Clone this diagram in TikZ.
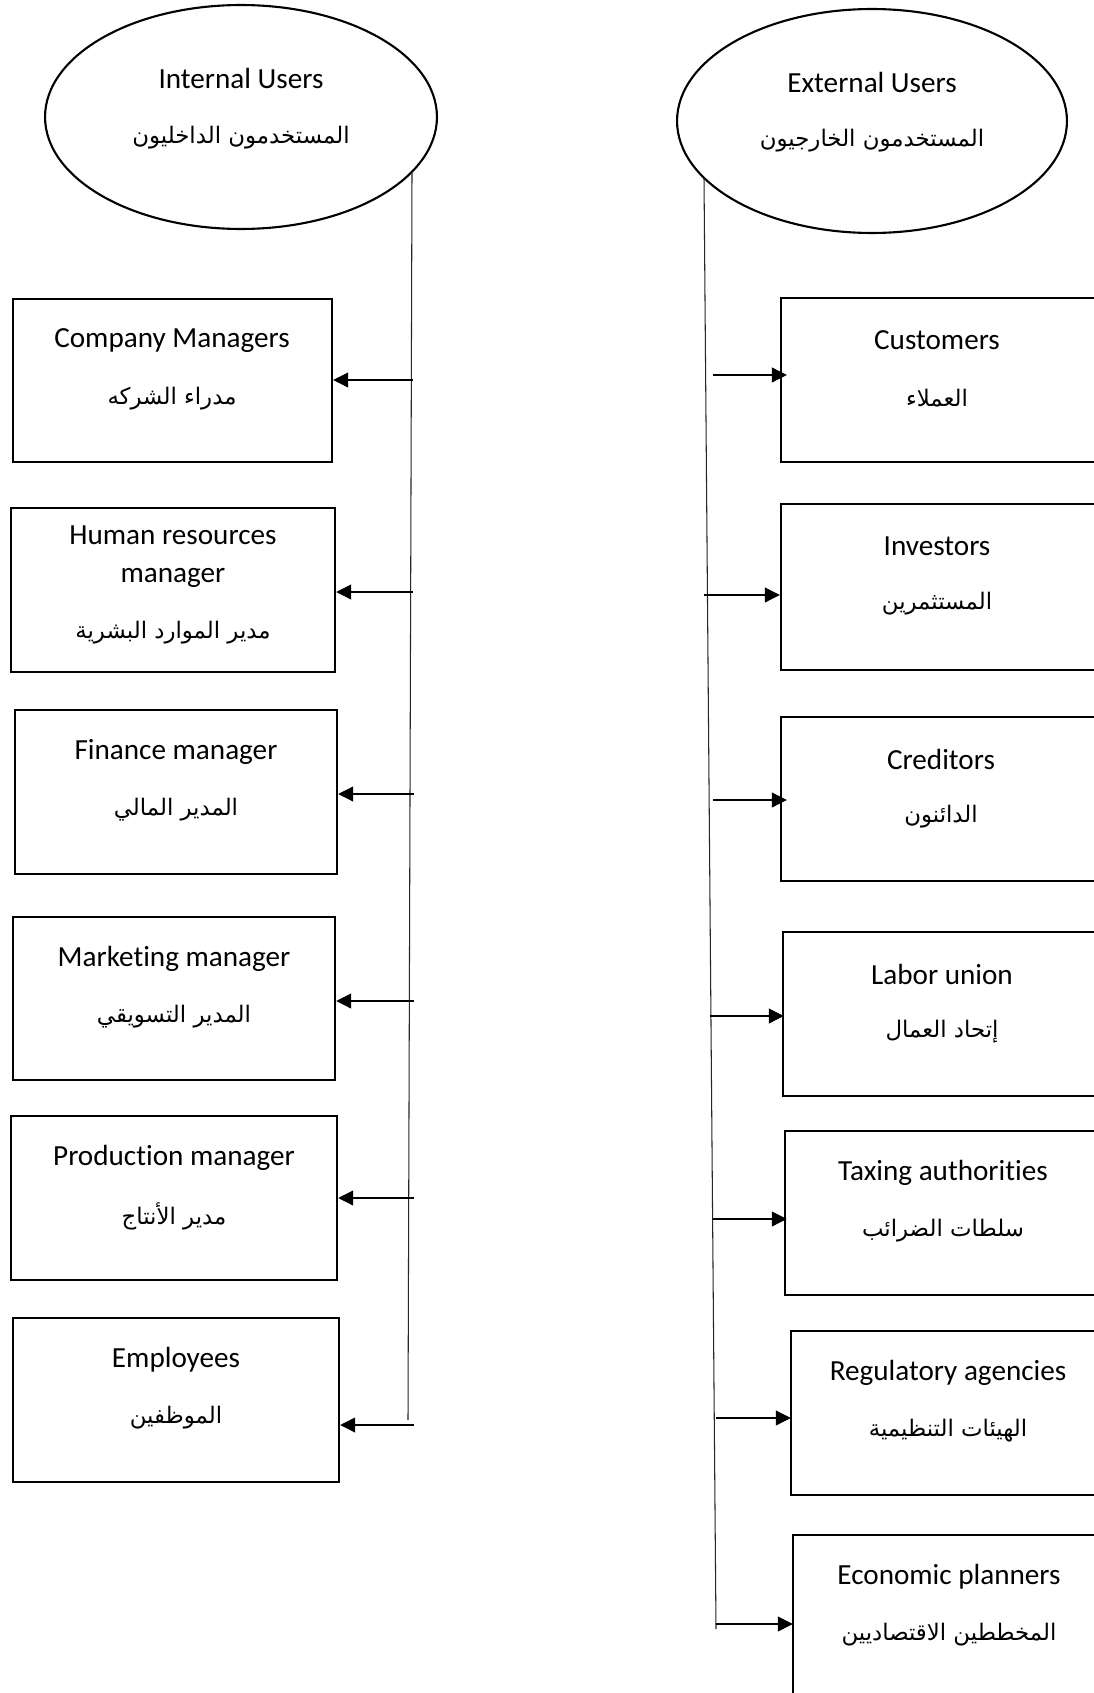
\documentclass[tikz,border=0pt]{standalone}
\usepackage{fontspec}
\setmainfont{Carlito}[Ligatures=NoCommon]
\newfontfamily\arabicfont[Script=Arabic]{DejaVu Sans}
\TeXXeTstate=1
\usetikzlibrary{arrows.meta,shapes.geometric,fit}
\tikzset{
  ubox/.style={draw, line width=1.4pt, inner sep=0pt},
  uell/.style={draw, ellipse, line width=1.2pt, inner sep=0pt, minimum height=4.48cm},
  en/.style={font=\fontsize{16.6}{21.6}\selectfont, inner sep=0pt, align=center},
  ar/.style={font=\arabicfont\fontsize{13}{16}\selectfont, inner sep=0pt},
  trunk/.style={line width=0.6pt, draw=black!85},
  feed/.style={line width=0.6pt, -{Triangle[length=0.3cm,width=0.3cm]}},
}
\newcommand\userbox[8]{%
  \node[ubox, fit={(#2,#3) (#4,#5)}] (#1) {};
  \node[en] (#1-en) at (#6,#3+42) {#7};
  \node[ar] (#1-ar) at (#6,#3+100) {#8};
}
\begin{document}
\begin{tikzpicture}[x=0.02cm,y=-0.02cm]
\useasboundingbox (0,0) rectangle (1094,1693);
\fill[white] (0,0) rectangle (1094,1693);
\clip (0,0) rectangle (1094,1693);

% ellipses
\node[uell, minimum width=7.84cm] (inU) at (241,117) {};
\node[en] (inU-en) at (241,78) {Internal Users};
\node[ar] (inU-ar) at (241,138) {\beginR المستخدمون الداخليون\endR};
\node[uell, minimum width=7.8cm] (exU) at (872,121) {};
\node[en] (exU-en) at (872,82) {External Users};
\node[ar] (exU-ar) at (872,141) {\beginR المستخدمون الخارجيون\endR};

% left boxes
\userbox{cm}{13}{299}{332}{462}{172}{Company Managers}{\beginR مدراء الشركه\endR}
\node[ubox, fit={(11,508) (335,672)}] (hr) {};
\node[en] (hr-en) at (173,557) {Human resources\\manager};
\node[ar] (hr-ar) at (173,633) {\beginR مدير الموارد البشرية\endR};
\userbox{fm}{15}{710}{337}{874}{176}{Finance manager}{\beginR المدير المالي\endR}
\userbox{mm}{13}{917}{335}{1080}{174}{Marketing manager}{\beginR المدير التسويقي\endR}
\userbox{pm}{11}{1116}{337}{1280}{174}{Production manager}{\beginR مدير الأنتاج\endR}
\userbox{em}{13}{1318}{339}{1482}{176}{Employees}{\beginR الموظفين\endR}

% right boxes
\userbox{cu}{781}{298}{1100}{462}{937}{Customers}{\beginR العملاء\endR}
\userbox{iv}{781}{504}{1100}{670}{937}{Investors}{\beginR المستثمرين\endR}
\userbox{cr}{781}{717}{1100}{881}{941}{Creditors}{\beginR الدائنون\endR}
\userbox{lu}{783}{932}{1100}{1096}{942}{Labor union}{\beginR إتحاد العمال\endR}
\userbox{ta}{785}{1131}{1100}{1295}{943}{Taxing authorities}{\beginR سلطات الضرائب\endR}
\userbox{ra}{791}{1331}{1100}{1495}{948}{Regulatory agencies}{\beginR الهيئات التنظيمية\endR}
\userbox{ep}{793}{1535}{1100}{1710}{949}{Economic planners}{\beginR المخططين الاقتصاديين\endR}

% left trunk
\coordinate (lt) at (412,173);
\coordinate (lb) at (408,1420);
\draw[trunk] (lt) -- (lb);
\coordinate (l1) at (413,380);
\coordinate (l2) at (413,592);
\coordinate (l3) at (414,794);
\coordinate (l4) at (414,1001);
\coordinate (l5) at (414,1198);
\coordinate (l6) at (414,1425);
\draw[feed] (l1) -- (l1 -| cm.east);
\draw[feed] (l2) -- (l2 -| hr.east);
\draw[feed] (l3) -- (l3 -| fm.east);
\draw[feed] (l4) -- (l4 -| mm.east);
\draw[feed] (l5) -- (l5 -| pm.east);
\draw[feed] (l6) -- (l6 -| em.east);

% right trunk
\coordinate (rt) at (704,178);
\coordinate (rb) at (716,1629);
\draw[trunk] (rt) -- (rb);
\coordinate (r1) at (713,375);
\coordinate (r2) at (704,595);
\coordinate (r3) at (713,800);
\coordinate (r4) at (710,1016);
\coordinate (r5) at (713,1219);
\coordinate (r6) at (716,1418);
\coordinate (r7) at (716,1624);
\draw[feed, shorten >=-0.14cm] (r1) -- (r1 -| cu.west);
\draw[feed] (r2) -- (r2 -| iv.west);
\draw[feed, shorten >=-0.14cm] (r3) -- (r3 -| cr.west);
\draw[feed, shorten >=-0.04cm] (r4) -- (r4 -| lu.west);
\draw[feed, shorten >=-0.06cm] (r5) -- (r5 -| ta.west);
\draw[feed, shorten >=-0.02cm] (r6) -- (r6 -| ra.west);
\draw[feed, shorten >=-0.02cm] (r7) -- (r7 -| ep.west);
\end{tikzpicture}
\end{document}
